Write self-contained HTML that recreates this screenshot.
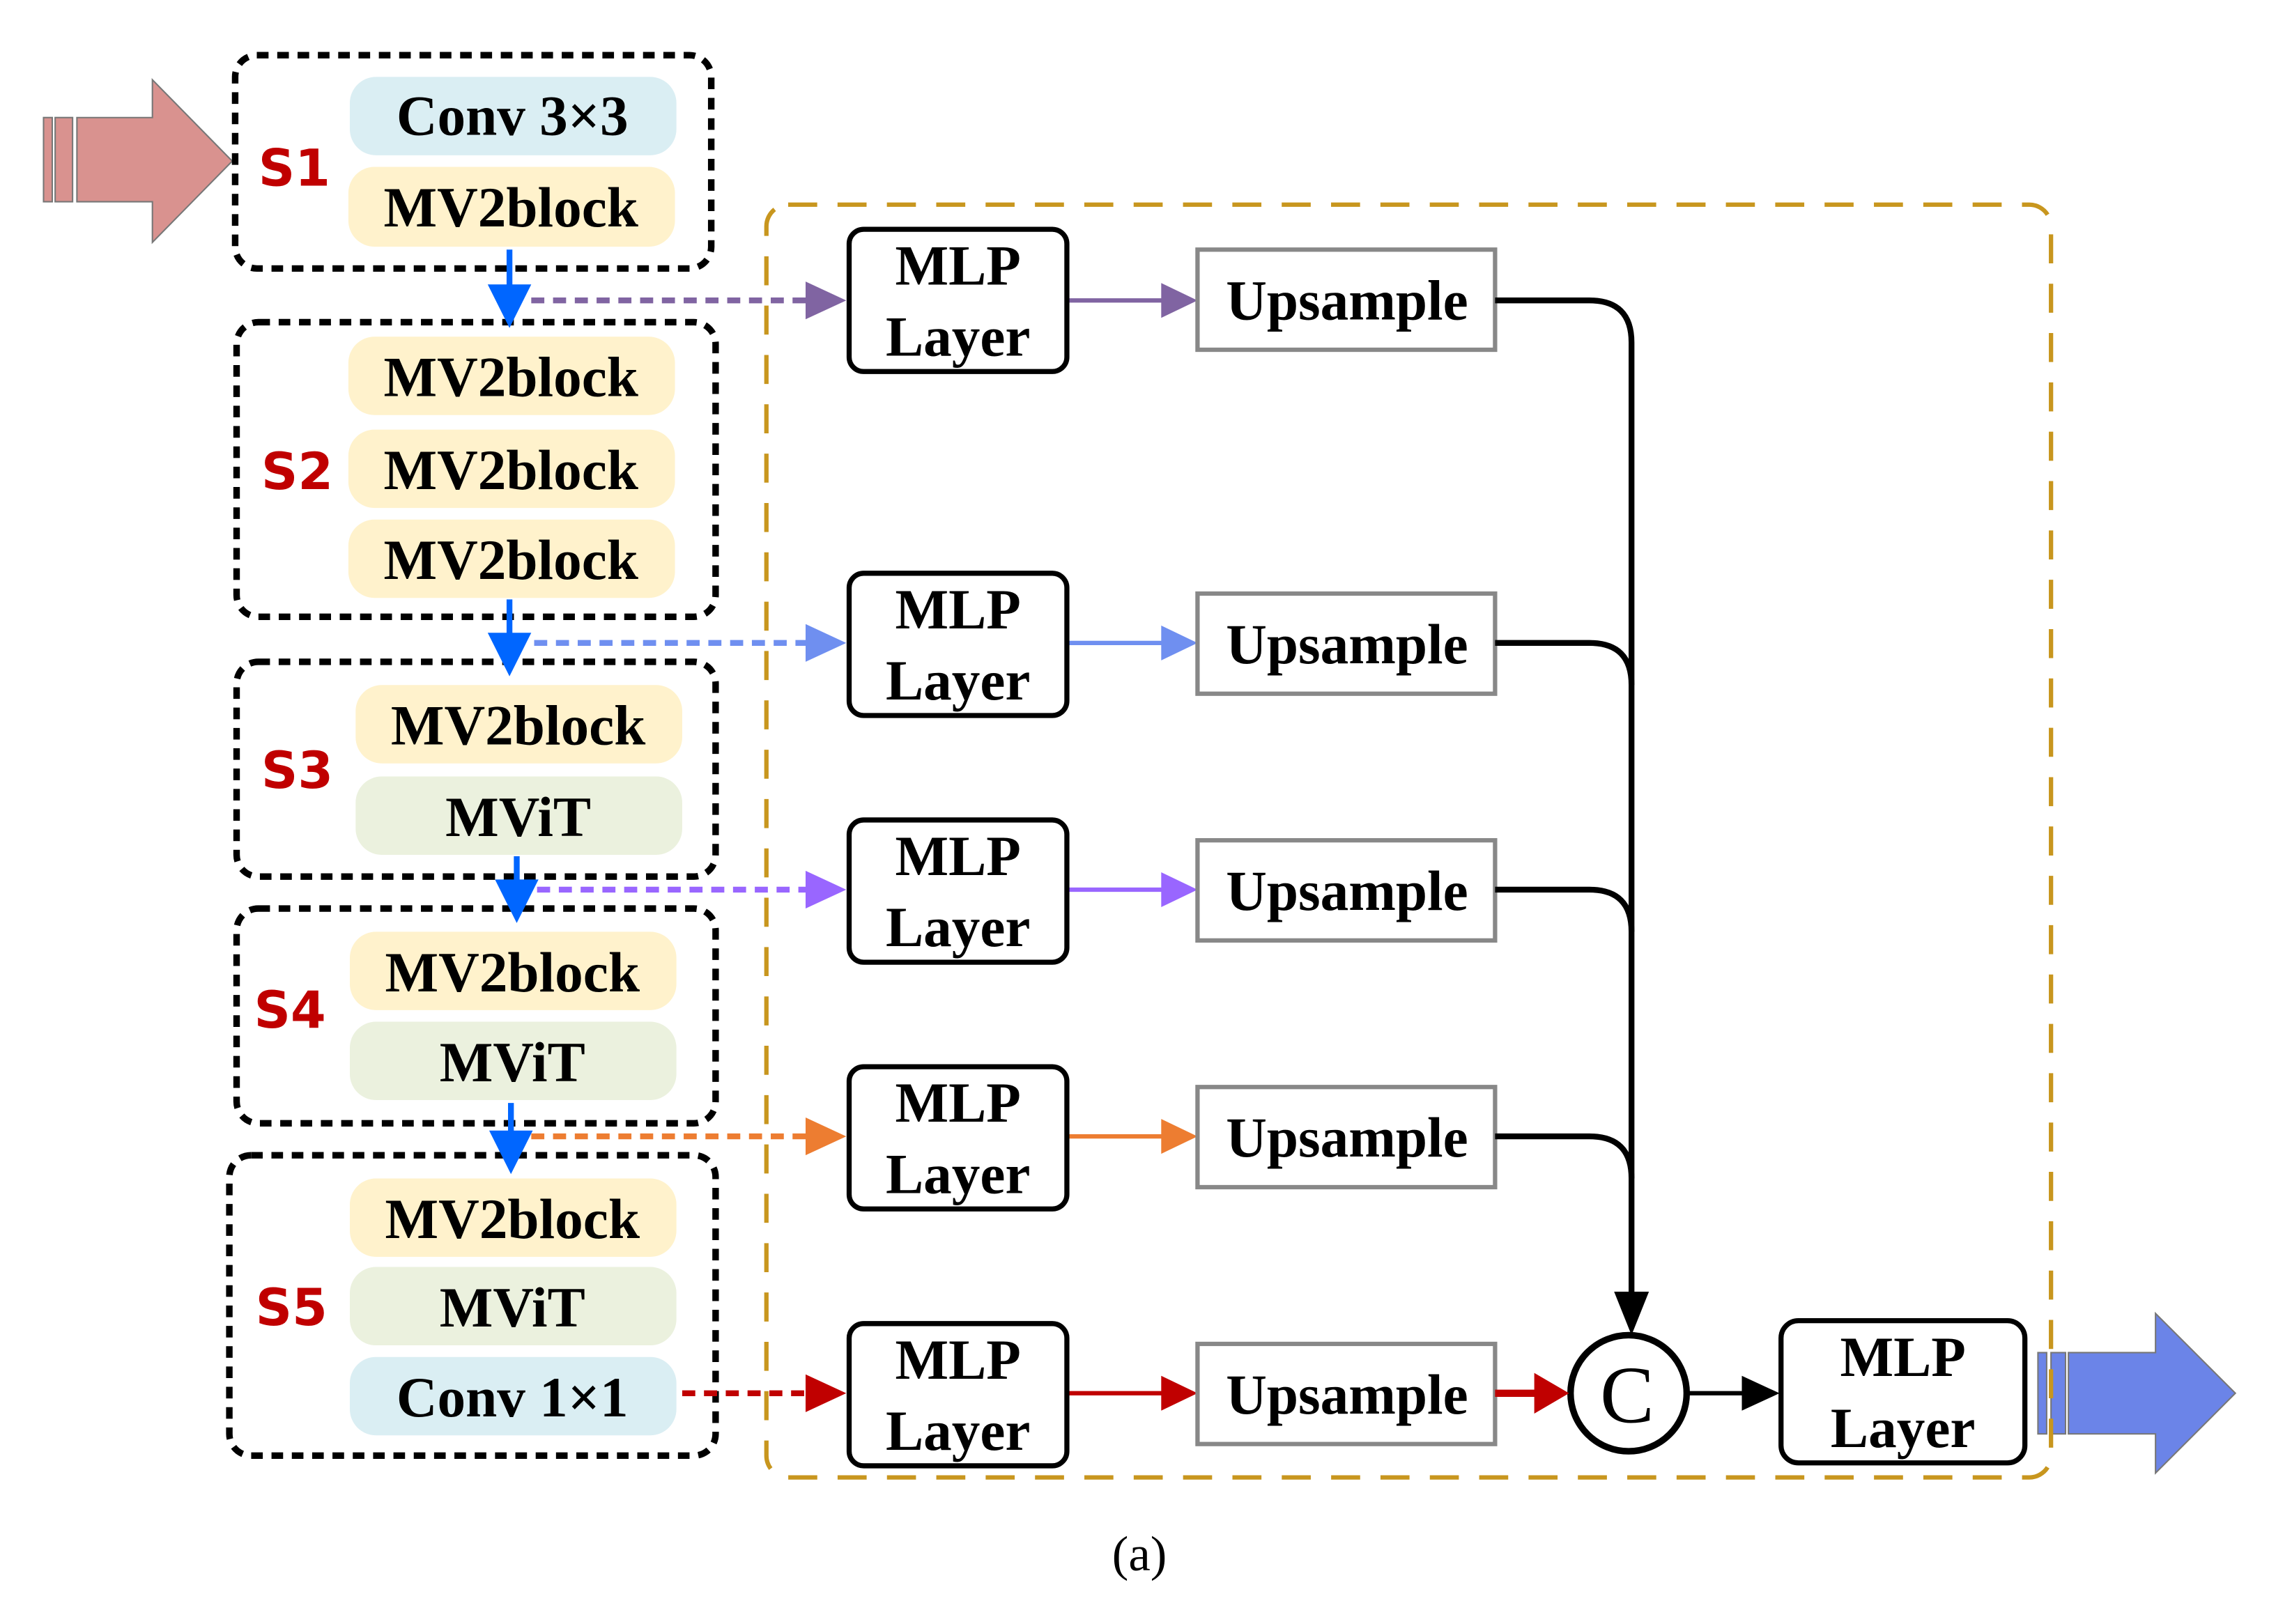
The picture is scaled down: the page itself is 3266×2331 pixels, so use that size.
<!DOCTYPE html>
<html><head><meta charset="utf-8"><style>html,body{margin:0;padding:0;background:#fff}svg{display:block}</style></head>
<body>
<svg width="3266" height="2331" viewBox="0 0 1568 1119" preserveAspectRatio="none" xmlns="http://www.w3.org/2000/svg">
<rect width="1568" height="1119" fill="#fff"/>
<g font-family="Liberation Serif, serif" font-weight="bold" text-anchor="middle">
<g fill="#d9928f" stroke="#777" stroke-width="1">
<rect x="30" y="81" width="6" height="58"/><rect x="38" y="81" width="12" height="58"/>
<path d="M53,81 L105,81 L105,55 L160,111 L105,167 L105,139 L53,139 Z"/>
</g>
<g fill="#6b84e8" stroke="#777" stroke-width="1">
<rect x="1404" y="932" width="6" height="56"/><rect x="1413" y="932" width="10" height="56"/>
<path d="M1425,932 L1485,932 L1485,905 L1540,960 L1485,1015 L1485,988 L1425,988 Z"/>
</g>
<rect x="528" y="141" width="885" height="877" rx="15" fill="none" stroke="#c8961e" stroke-width="3" stroke-dasharray="20 14"/>
<g fill="none" stroke="#000" stroke-width="4.5" stroke-dasharray="8 6">
<rect x="162" y="38" width="328" height="147" rx="15"/>
<rect x="163" y="222" width="330" height="203" rx="15"/>
<rect x="163" y="456" width="330" height="148" rx="15"/>
<rect x="163" y="626" width="330" height="148" rx="15"/>
<rect x="158" y="796" width="335" height="207" rx="15"/>
</g>
<g>
<rect x="241" y="53" width="225" height="54" rx="18" fill="#daeef3"/>
<rect x="240" y="115" width="225" height="55" rx="18" fill="#fff2cc"/>
<rect x="240" y="232" width="225" height="54" rx="18" fill="#fff2cc"/>
<rect x="240" y="296" width="225" height="54" rx="18" fill="#fff2cc"/>
<rect x="240" y="358" width="225" height="54" rx="18" fill="#fff2cc"/>
<rect x="245" y="472" width="225" height="54" rx="18" fill="#fff2cc"/>
<rect x="245" y="535" width="225" height="54" rx="18" fill="#ebf1de"/>
<rect x="241" y="642" width="225" height="54" rx="18" fill="#fff2cc"/>
<rect x="241" y="704" width="225" height="54" rx="18" fill="#ebf1de"/>
<rect x="241" y="812" width="225" height="54" rx="18" fill="#fff2cc"/>
<rect x="241" y="873" width="225" height="54" rx="18" fill="#ebf1de"/>
<rect x="241" y="935" width="225" height="54" rx="18" fill="#daeef3"/>
</g>
<g font-size="39" fill="#000">
<text x="353" y="93">Conv 3×3</text>
<text x="352" y="156">MV2block</text>
<text x="352" y="273">MV2block</text>
<text x="352" y="337">MV2block</text>
<text x="352" y="399">MV2block</text>
<text x="357" y="513">MV2block</text>
<text x="357" y="576">MViT</text>
<text x="353" y="683">MV2block</text>
<text x="353" y="745">MViT</text>
<text x="353" y="853">MV2block</text>
<text x="353" y="914">MViT</text>
<text x="353" y="976">Conv 1×1</text>
</g>
<g font-family="DejaVu Sans, sans-serif" font-size="35" fill="#c00000" text-anchor="start">
<text x="178" y="128">S1</text>
<text x="180" y="337">S2</text>
<text x="180" y="543">S3</text>
<text x="175" y="708">S4</text>
<text x="176" y="913">S5</text>
</g>
<g stroke="#0066ff" stroke-width="4">
<line x1="351" y1="172" x2="351" y2="205"/><line x1="351" y1="413" x2="351" y2="445"/>
<line x1="356" y1="590" x2="356" y2="615"/><line x1="352" y1="760" x2="352" y2="788"/>
</g>
<g fill="#0066ff">
<path d="M336,196 L366,196 L351,226 Z"/><path d="M336,436 L366,436 L351,466 Z"/>
<path d="M341,606 L371,606 L356,636 Z"/><path d="M337,779 L367,779 L352,809 Z"/>
</g>
<g stroke-width="4" stroke-dasharray="9 6" fill="none">
<line x1="366" y1="207" x2="560" y2="207" stroke="#8064a2"/>
<line x1="368" y1="443" x2="560" y2="443" stroke="#6f8ff0"/>
<line x1="370" y1="613" x2="560" y2="613" stroke="#9966ff"/>
<line x1="366" y1="783" x2="560" y2="783" stroke="#ed7d31"/>
<line x1="470" y1="960" x2="560" y2="960" stroke="#c00000"/>
</g>
<g>
<path d="M555,194 L583,207 L555,220 Z" fill="#8064a2"/>
<path d="M555,430 L583,443 L555,456 Z" fill="#6f8ff0"/>
<path d="M555,600 L583,613 L555,626 Z" fill="#9966ff"/>
<path d="M555,770 L583,783 L555,796 Z" fill="#ed7d31"/>
<path d="M555,947 L583,960 L555,973 Z" fill="#c00000"/>
</g>
<g stroke-width="3">
<line x1="735" y1="207" x2="805" y2="207" stroke="#8064a2"/>
<line x1="735" y1="443" x2="805" y2="443" stroke="#6f8ff0"/>
<line x1="735" y1="613" x2="805" y2="613" stroke="#9966ff"/>
<line x1="735" y1="783" x2="805" y2="783" stroke="#ed7d31"/>
<line x1="735" y1="960" x2="805" y2="960" stroke="#c00000"/>
</g>
<g>
<path d="M800,195 L825,207 L800,219 Z" fill="#8064a2"/>
<path d="M800,431 L825,443 L800,455 Z" fill="#6f8ff0"/>
<path d="M800,601 L825,613 L800,625 Z" fill="#9966ff"/>
<path d="M800,771 L825,783 L800,795 Z" fill="#ed7d31"/>
<path d="M800,948 L825,960 L800,972 Z" fill="#c00000"/>
</g>
<g fill="#fff" stroke="#000" stroke-width="3.5">
<rect x="585" y="158" width="150" height="98" rx="10"/>
<rect x="585" y="395" width="150" height="98" rx="10"/>
<rect x="585" y="565" width="150" height="98" rx="10"/>
<rect x="585" y="735" width="150" height="98" rx="10"/>
<rect x="585" y="912" width="150" height="98" rx="10"/>
<rect x="1227" y="910" width="168" height="98" rx="12"/>
</g>
<g font-size="39" fill="#000">
<text x="660" y="196">MLP</text><text x="660" y="245">Layer</text>
<text x="660" y="433">MLP</text><text x="660" y="482">Layer</text>
<text x="660" y="603">MLP</text><text x="660" y="652">Layer</text>
<text x="660" y="773">MLP</text><text x="660" y="822">Layer</text>
<text x="660" y="950">MLP</text><text x="660" y="999">Layer</text>
<text x="1311" y="948">MLP</text><text x="1311" y="997">Layer</text>
</g>
<g fill="#fff" stroke="#888" stroke-width="3">
<rect x="825" y="172" width="205" height="69"/>
<rect x="825" y="409" width="205" height="69"/>
<rect x="825" y="579" width="205" height="69"/>
<rect x="825" y="749" width="205" height="69"/>
<rect x="825" y="926" width="205" height="69"/>
</g>
<g font-size="39" fill="#000">
<text x="928" y="220">Upsample</text>
<text x="928" y="457">Upsample</text>
<text x="928" y="627">Upsample</text>
<text x="928" y="797">Upsample</text>
<text x="928" y="974">Upsample</text>
</g>
<g fill="none" stroke="#000" stroke-width="4">
<path d="M1030,207 L1095,207 Q1124,207 1124,236 L1124,895"/>
<path d="M1030,443 L1095,443 Q1124,443 1124,472"/>
<path d="M1030,613 L1095,613 Q1124,613 1124,642"/>
<path d="M1030,783 L1095,783 Q1124,783 1124,812"/>
</g>
<path d="M1112,890 L1136,890 L1124,920 Z" fill="#000"/>
<circle cx="1122" cy="960" r="40" fill="#fff" stroke="#000" stroke-width="4.5"/>
<text x="1121" y="980" font-size="56" font-weight="normal">C</text>
<line x1="1030" y1="960" x2="1062" y2="960" stroke="#c00000" stroke-width="5"/>
<path d="M1057,946 L1081,960 L1057,974 Z" fill="#c00000"/>
<line x1="1164" y1="960" x2="1205" y2="960" stroke="#000" stroke-width="3"/>
<path d="M1200,948 L1226,960 L1200,972 Z" fill="#000"/>
<text x="785" y="1082" font-size="34" font-weight="normal">(a)</text>
</g>
</svg>
</body></html>
